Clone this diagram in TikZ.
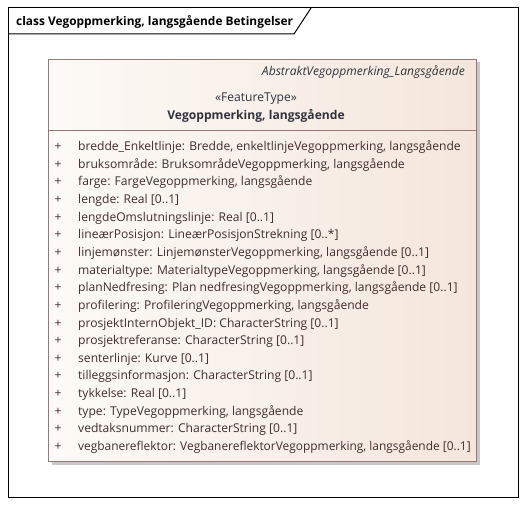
\documentclass[tikz,border=0pt]{standalone}
\usepackage{fontspec}
\setmainfont{Open Sans}
\usetikzlibrary{positioning}
\definecolor{BoxBorder}{RGB}{150,120,120}
\definecolor{BoxLeft}{RGB}{253,250,247}
\definecolor{BoxRight}{RGB}{244,230,220}
\definecolor{ShadowGray}{RGB}{200,200,200}
\definecolor{AttrColor}{RGB}{65,45,45}
\definecolor{HeadColor}{RGB}{50,50,60}
\def\umlfont{\fontsize{12.1}{14}\selectfont}

\begin{document}
\begin{tikzpicture}[x=1pt,y=-1pt, frame/.style={draw=black,line width=1pt}, classbox/.style={draw=BoxBorder,line width=1pt,left color=BoxLeft,right color=BoxRight}, attr/.style={anchor=base west,inner sep=0pt,text=AttrColor,font=\umlfont}, plus/.style={anchor=base,inner sep=0pt,text=AttrColor,font=\umlfont}]
\useasboundingbox (0,0) rectangle (527,505);

% diagram frame and its title tab
\draw[frame] (8,8) rectangle (518,497);
\draw[frame] (8,34) -- (294,34) -- (311,8);
\node[anchor=base west,inner sep=0pt,font=\fontsize{11.9}{14}\selectfont\bfseries] (title) at (16,25.5) {class Vegoppmerking, langsgående Betingelser};

% the class box with its shadow
\fill[ShadowGray] (51.5,62.5) rectangle (480,464.5);
\draw[classbox] (48,59.5) rectangle (476.5,461);
\draw[BoxBorder,line width=1pt] (48,131) -- (476.5,131);

% header
\node[anchor=base east,inner sep=0pt,text=HeadColor,font=\umlfont\itshape] (parent) at (465,76) {AbstraktVegoppmerking\_Langsgående};
\node[anchor=base,inner sep=0pt,text=HeadColor,font=\umlfont] (stereo) at (256,102) {«FeatureType»};
\node[anchor=base,inner sep=0pt,text=HeadColor,font=\umlfont\bfseries] (classname) at (256,119.5) {Vegoppmerking, langsgående};

% attributes
\foreach \attr [count=\i from 0] in {%
  {bredde\_Enkeltlinje: Bredde, enkeltlinjeVegoppmerking, langsgående},
  {bruksområde: BruksområdeVegoppmerking, langsgående},
  {farge: FargeVegoppmerking, langsgående},
  {lengde: Real [0..1]},
  {lengdeOmslutningslinje: Real [0..1]},
  {lineærPosisjon: LineærPosisjonStrekning [0..*]},
  {linjemønster: LinjemønsterVegoppmerking, langsgående [0..1]},
  {materialtype: MaterialtypeVegoppmerking, langsgående [0..1]},
  {planNedfresing: Plan nedfresingVegoppmerking, langsgående [0..1]},
  {profilering: ProfileringVegoppmerking, langsgående},
  {prosjektInternObjekt\_ID: CharacterString [0..1]},
  {prosjektreferanse: CharacterString [0..1]},
  {senterlinje: Kurve [0..1]},
  {tilleggsinformasjon: CharacterString [0..1]},
  {tykkelse: Real [0..1]},
  {type: TypeVegoppmerking, langsgående},
  {vedtaksnummer: CharacterString [0..1]},
  {\scalebox{0.985}[1]{vegbanereflektor: VegbanereflektorVegoppmerking, langsgående [0..1]}}}{%
  \pgfmathsetmacro{\ypos}{150.5+17.65*\i}
  \node[plus] (plus\i) at (58,\ypos) {+};
  \node[attr] (attr\i) at (78,\ypos) {\attr};
}

\end{tikzpicture}
\end{document}
